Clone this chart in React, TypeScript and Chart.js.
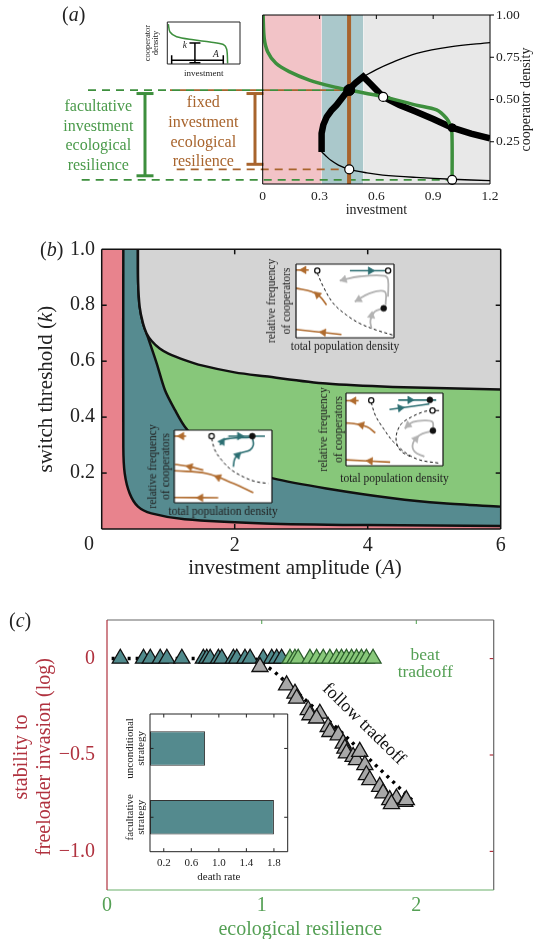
import React, { useEffect, useRef } from 'react';
import { Chart, registerables } from 'chart.js';

Chart.register(...registerables);

const SERIF = '"Liberation Serif", "Times New Roman", "DejaVu Serif", serif';
Chart.defaults.font.family = SERIF;
Chart.defaults.color = '#222';

// ---------------- colours ----------------
const BROWN = '#a8642d';
const FGREEN = '#3d8f3d';
const RED_TXT = '#b0323f';
const GREEN_TXT = '#55a055';
const P_BROWN = '#b06b2e';
const P_TEAL = '#2b6e72';
const P_GRAY = '#b3b3b3';

// ================= Panel (a) data =================
const aXTicks = [0, 0.3, 0.6, 0.9, 1.2];
const aXTickLabels = ['0', '0.3', '0.6', '0.9', '1.2'];
const aYTicks = [0.25, 0.5, 0.75, 1.0];
const aYTickLabels = ['0.25', '0.50', '0.75', '1.00'];
const aRegionEdges = [0, 0.3115, 0.531, 1.2];
const aFixedInvestment = 0.456;
const aFacultativeCurve = [[0.002, 1.0], [0.008, 0.862], [0.026, 0.783], [0.07, 0.714], [0.14, 0.665], [0.246, 0.615], [0.37, 0.576], [0.458, 0.556], [0.634, 0.517], [0.81, 0.467], [0.918, 0.438], [0.97, 0.389], [0.99, 0.349], [0.999, 0.3], [1.0, 0.024]];
const aStableBranch = [[0.311, 0.19], [0.311, 0.3], [0.32, 0.35], [0.338, 0.398], [0.362, 0.435], [0.39, 0.467], [0.42, 0.51], [0.452, 0.556], [0.49, 0.598], [0.531, 0.635], [0.566, 0.596], [0.634, 0.517], [0.722, 0.467], [0.81, 0.428], [0.9, 0.385], [1.0, 0.333], [1.1, 0.298], [1.2, 0.27]];
const aLowerBranch = [[0.311, 0.19], [0.33, 0.17], [0.36, 0.14], [0.4, 0.112], [0.457, 0.087], [0.55, 0.066], [0.634, 0.053], [0.81, 0.039], [1.0, 0.028], [1.2, 0.02]];
const aUpperBranch = [[0.531, 0.635], [0.6, 0.677], [0.672, 0.714], [0.813, 0.773], [0.989, 0.812], [1.2, 0.836]];
const aStablePoints = [[0.457, 0.556], [1.0, 0.333]];
const aUnstablePoints = [[0.636, 0.515], [0.457, 0.087], [1.0, 0.025]];

// panel (a) schematic inset
const aInsetCurve = [[0.014, 0.948], [0.037, 0.761], [0.128, 0.649], [0.358, 0.575], [0.587, 0.522], [0.771, 0.463], [0.817, 0.351], [0.83, 0.015]];
const aInsetK = [[0.38, 0.5], [0.38, 0.03]];
const aInsetA = [[0.06, 0.09], [0.77, 0.09]];

// ================= Panel (b) data =================
const bXTicks = [0, 2, 4, 6];
const bXTickLabels = ['0', '2', '4', '6'];
const bYTicks = [0.2, 0.4, 0.6, 0.8, 1.0];
const bYTickLabels = ['0.2', '0.4', '0.6', '0.8', '1.0'];
const bUnstableBoundary = [[0.325, 1], [0.325, 0.294], [0.346, 0.199], [0.421, 0.127], [0.546, 0.08], [0.747, 0.056], [1.248, 0.035], [2.45, 0.02], [4.0, 0.014], [6.0, 0.011]];
const bBistableBoundary = [[0.545, 1], [0.548, 0.88], [0.571, 0.794], [0.621, 0.735], [0.675, 0.699], [0.827, 0.592], [0.952, 0.496], [1.103, 0.425], [1.253, 0.365], [1.6, 0.275], [2.0, 0.225], [2.576, 0.181], [3.378, 0.145], [4.38, 0.11], [5.14, 0.092], [6.0, 0.08]];
const bStableBoundary = [[0.545, 1], [0.548, 0.88], [0.571, 0.794], [0.621, 0.735], [0.675, 0.699], [0.752, 0.672], [0.872, 0.645], [1.003, 0.627], [1.25, 0.604], [1.504, 0.585], [2.0, 0.56], [2.456, 0.546], [3.378, 0.52], [4.38, 0.508], [6.0, 0.499]];

// phase-portrait insets (normalised axes)  [x, y] and arrows [x, y, direction deg]
const p1Separatrix = [[0.217, 0.877], [0.278, 0.695], [0.38, 0.468], [0.515, 0.309], [0.651, 0.195], [0.82, 0.105], [0.99, 0.036]];
const p1Brown = [[[0, 0.92], [0.13, 0.92]], [[0.312, 0.445], [0.244, 0.559], [0.159, 0.627], [0, 0.673]], [[0.464, 0.045], [0, 0.114]]];
const p1BrownArrows = [[0.08, 0.92, -90], [0.22, 0.585, -48], [0.28, 0.073, -84]];
const p1Teal = [[[0.55, 0.91], [0.94, 0.91]]];
const p1TealArrows = [[0.76, 0.91, 90]];
const p1Gray = [[[0.447, 0.777], [0.651, 0.832], [0.905, 0.841], [0.939, 0.786], [0.939, 0.559]], [[0.6, 0.49], [0.753, 0.605], [0.905, 0.627], [0.915, 0.445]], [[0.77, 0.127], [0.76, 0.24], [0.803, 0.355], [0.888, 0.4]]];
const p1GrayArrows = [[0.49, 0.79, -107], [0.64, 0.52, -119], [0.77, 0.3, 10]];
const p1Open = [[0.217, 0.91], [0.94, 0.91]];
const p1Filled = [[0.895, 0.4]];

const p2Separatrix = [[[0.26, 0.873], [0.303, 0.692], [0.387, 0.511], [0.488, 0.33], [0.623, 0.172], [0.758, 0.081], [0.96, 0.036]], [[0.892, 0.76], [0.808, 0.747], [0.673, 0.67], [0.572, 0.579], [0.522, 0.443], [0.522, 0.308], [0.572, 0.195], [0.66, 0.13]]];
const p2Stub = [[0.892, 0.76], [0.96, 0.76]];
const p2Brown = [[[0, 0.896], [0.13, 0.896]], [[0.303, 0.452], [0.219, 0.534], [0.084, 0.579], [0, 0.588]], [[0.455, 0.05], [0, 0.081]]];
const p2BrownArrows = [[0.08, 0.896, -90], [0.16, 0.56, -76], [0.25, 0.066, -86]];
const p2Teal = [[[0.539, 0.905], [0.93, 0.905]], [[0.448, 0.774], [0.859, 0.851]]];
const p2TealArrows = [[0.66, 0.905, 90], [0.56, 0.795, 82]];
const p2Gray = [[[0.606, 0.511], [0.69, 0.602], [0.825, 0.624], [0.892, 0.602], [0.899, 0.511]], [[0.808, 0.127], [0.707, 0.195], [0.69, 0.308], [0.758, 0.421], [0.875, 0.475]]];
const p2GrayArrows = [[0.64, 0.56, -129], [0.72, 0.37, 39]];
const p2Open = [[0.26, 0.9], [0.892, 0.76]];
const p2Filled = [[0.865, 0.905], [0.896, 0.484]];

const p3Separatrix = [[0.382, 0.885], [0.416, 0.725], [0.485, 0.587], [0.587, 0.45], [0.741, 0.335], [0.843, 0.289], [0.962, 0.266]];
const p3Brown = [[[0, 0.917], [0.12, 0.917]], [[0.297, 0.45], [0.16, 0.495], [0.007, 0.528]], [[0.809, 0.138], [0.604, 0.266], [0.331, 0.404], [0, 0.44]], [[0.45, 0.069], [0, 0.073]]];
const p3BrownArrows = [[0.075, 0.917, -90], [0.16, 0.495, -76], [0.45, 0.35, -69], [0.27, 0.07, -90]];
const p3Teal = [[[0.553, 0.917], [0.928, 0.917]], [[0.468, 0.794], [0.502, 0.862], [0.57, 0.885], [0.775, 0.899]], [[0.604, 0.495], [0.621, 0.61], [0.672, 0.679], [0.775, 0.725], [0.809, 0.794], [0.802, 0.885]]];
const p3TealArrows = [[0.67, 0.917, 90], [0.49, 0.84, 33], [0.65, 0.655, 45]];
const p3Open = [[0.382, 0.917]];
const p3Filled = [[0.799, 0.917]];

// ================= Panel (c) data =================
const cXTicks = [0, 1, 2];
const cXTickLabels = ['0', '1', '2'];
const cYTicks = [-1.0, -0.5, 0];
const cYTickLabels = ['\u22121.0', '\u22120.5', '0'];
const cUnconditional = [0.086, 0.236, 0.28, 0.344, 0.387, 0.484, 0.623, 0.645, 0.667, 0.72, 0.742, 0.817, 0.839, 0.892, 0.925, 1.01, 1.065, 1.097, 1.129];
const cBeatTradeoff = [1.183, 1.215, 1.236, 1.312, 1.355, 1.398, 1.441, 1.484, 1.516, 1.548, 1.581, 1.613, 1.645, 1.677, 1.72];
const cFollowTradeoff = [[0.989, -0.043], [1.161, -0.138], [1.215, -0.181], [1.226, -0.207], [1.301, -0.267], [1.312, -0.293], [1.376, -0.285], [1.355, -0.31], [1.43, -0.354], [1.441, -0.38], [1.495, -0.397], [1.527, -0.44], [1.538, -0.466], [1.548, -0.491], [1.591, -0.509], [1.613, -0.526], [1.634, -0.483], [1.667, -0.552], [1.677, -0.604], [1.699, -0.63], [1.763, -0.664], [1.785, -0.698], [1.828, -0.733], [1.871, -0.725], [1.925, -0.742], [1.839, -0.754], [1.935, -0.733]];
const cTradeoffLine = [[0.03, 0], [0.96, 0], [1.084, -0.069], [1.29, -0.22], [1.5, -0.37], [1.72, -0.54], [1.86, -0.647], [1.98, -0.74]];

// panel (c) inset bar chart
const insetCategories = [['unconditional', 'strategy'], ['facultative', 'strategy']];
const insetDeathRate = [0.8, 1.8];
const insetXTicks = [0.2, 0.6, 1.0, 1.4, 1.8];
const insetXTickLabels = ['0.2', '0.6', '1.0', '1.4', '1.8'];

// ================= helpers =================
const xy = (a: number[][]) => a.map(([x, y]) => ({ x, y }));

function lineDs(label: string, data: any[], color: string, width: number, extra: any = {}) {
  return { label, data, showLine: true, borderColor: color, borderWidth: width, pointRadius: 0, pointHitRadius: 0, fill: false, tension: 0, ...extra };
}
function pointDs(label: string, data: any[], extra: any = {}) {
  return { label, data, showLine: false, pointHitRadius: 0, ...extra };
}
function arrowDs(label: string, arr: number[][], color: string) {
  return pointDs(label, arr.map(([x, y]) => ({ x, y })), {
    pointStyle: 'triangle', pointRadius: 4.3, pointRotation: arr.map((a) => a[2]),
    pointBackgroundColor: color, pointBorderColor: color, pointBorderWidth: 0.6,
  });
}
function stack(ds: any[]) {
  ds.forEach((d, i) => (d.order = ds.length - i));
  return ds;
}

function linAxis(o: any) {
  const vertical = o.position === 'left' || o.position === 'right';
  return {
    type: 'linear', position: o.position, min: o.min, max: o.max, display: o.display !== false,
    grid: { display: false, drawTicks: false }, border: { display: false },
    afterBuildTicks: (s: any) => { s.ticks = o.values.map((v: number) => ({ value: v })); },
    afterFit: (s: any) => { if (o.fit != null) { if (vertical) s.width = o.fit; else s.height = o.fit; } },
    ticks: {
      padding: o.pad ?? 4, autoSkip: false, maxRotation: 0, minRotation: 0, color: o.color ?? '#222',
      font: { size: o.size ?? 14, family: SERIF },
      callback: (_v: any, i: number) => (o.hideFirst && i === 0 ? '' : o.labels[i]),
    },
  };
}

function baseOptions(padding: any, scales: any, extra: any = {}) {
  return {
    responsive: false, animation: false, devicePixelRatio: 1, events: [],
    layout: { padding },
    plugins: { legend: { display: false }, tooltip: { enabled: false } },
    scales,
    ...extra,
  };
}

function drawText(ctx: CanvasRenderingContext2D, runs: any, x: number, y: number, o: any = {}) {
  const { size = 14, color = '#222', align = 'center', baseline = 'middle', rotate = 0 } = o;
  const parts = typeof runs === 'string' ? [[runs, false]] : runs;
  ctx.save();
  ctx.translate(x, y);
  if (rotate) ctx.rotate(rotate);
  ctx.fillStyle = color;
  ctx.textBaseline = baseline;
  ctx.textAlign = 'left';
  const fonts = parts.map((p: any) => `${p[1] ? 'italic ' : ''}${size}px ${SERIF}`);
  const widths = parts.map((p: any, i: number) => { ctx.font = fonts[i]; return ctx.measureText(p[0]).width; });
  const total = widths.reduce((s: number, w: number) => s + w, 0);
  let cx = align === 'center' ? -total / 2 : align === 'right' ? -total : 0;
  parts.forEach((p: any, i: number) => { ctx.font = fonts[i]; ctx.fillText(p[0], cx, 0); cx += widths[i]; });
  ctx.restore();
}

function seg(ctx: CanvasRenderingContext2D, x1: number, y1: number, x2: number, y2: number, color: string, width: number, dash: number[] = [], offset = 0) {
  ctx.save();
  ctx.strokeStyle = color;
  ctx.lineWidth = width;
  ctx.setLineDash(dash);
  ctx.lineDashOffset = offset;
  ctx.beginPath();
  ctx.moveTo(x1, y1);
  ctx.lineTo(x2, y2);
  ctx.stroke();
  ctx.restore();
}

function framePlugin(cfg: any) {
  return {
    id: cfg.id,
    afterDatasetsDraw(chart: any) {
      const { ctx, chartArea: a, scales } = chart;
      const w = cfg.width ?? 1;
      (cfg.ticks || []).forEach((t: any) => {
        t.values.forEach((v: number) => {
          const p = scales[t.axis].getPixelForValue(v);
          const L = t.len;
          if (t.side === 'top') seg(ctx, p, a.top, p, a.top + L, t.color, w);
          if (t.side === 'bottom') seg(ctx, p, a.bottom, p, a.bottom - L, t.color, w);
          if (t.side === 'left') seg(ctx, a.left, p, a.left + L, p, t.color, w);
          if (t.side === 'right') seg(ctx, a.right, p, a.right + L, p, t.color, w);
        });
      });
      if (cfg.top) seg(ctx, a.left, a.top, a.right, a.top, cfg.top, w);
      if (cfg.right) seg(ctx, a.right, a.top, a.right, a.bottom, cfg.right, w);
      if (cfg.bottom) seg(ctx, a.left, a.bottom, a.right, a.bottom, cfg.bottom, w);
      if (cfg.left) seg(ctx, a.left, a.top, a.left, a.bottom, cfg.left, w);
    },
  };
}

const whiteBg = {
  id: 'whiteBg',
  beforeDatasetsDraw(chart: any) {
    const { ctx, chartArea: a } = chart;
    ctx.save();
    ctx.fillStyle = '#fff';
    ctx.fillRect(a.left, a.top, a.right - a.left, a.bottom - a.top);
    ctx.restore();
  },
};

// ================= Panel (a) =================
function buildPanelA() {
  const rect = (x0: number, x1: number, color: string, label: string) =>
    lineDs(label, [{ x: x0, y: 1 }, { x: x1, y: 1 }], 'rgba(0,0,0,0)', 1, { fill: 'origin', backgroundColor: color });
  const datasets = stack([
    rect(aRegionEdges[0], aRegionEdges[1], '#f2c3c7', 'bg-unstable'),
    rect(aRegionEdges[1], aRegionEdges[2], '#aac8cb', 'bg-bistable'),
    rect(aRegionEdges[2], aRegionEdges[3], '#e8e8e8', 'bg-stable'),
    lineDs('fixed', [{ x: aFixedInvestment, y: 0 }, { x: aFixedInvestment, y: 1 }], BROWN, 4),
    lineDs('lower', xy(aLowerBranch), '#000', 1.3, { tension: 0.35 }),
    lineDs('upper', xy(aUpperBranch), '#000', 1.3, { tension: 0.35 }),
    lineDs('stableBranch', xy(aStableBranch), '#000', 6.5, { borderJoinStyle: 'miter', borderCapStyle: 'butt' }),
    lineDs('facultative', xy(aFacultativeCurve), FGREEN, 3.5, { tension: 0.3, borderCapStyle: 'butt' }),
    pointDs('stablePts', xy(aStablePoints), { pointRadius: [5.5, 4], pointBackgroundColor: '#000', pointBorderColor: '#000', pointBorderWidth: 1, clip: false }),
    pointDs('unstablePts', xy(aUnstablePoints), { pointRadius: 4.5, pointBackgroundColor: '#fff', pointBorderColor: '#000', pointBorderWidth: 1.2, clip: false }),
  ]);

  const annot = {
    id: 'annotA',
    afterDatasetDraw(chart: any, args: any) {
      if (chart.data.datasets[args.index].label !== 'bg-stable') return;
      const { ctx, scales: { x, y } } = chart;
      const hi = aStablePoints[0];
      const loFixed = aUnstablePoints[1];
      const loFac = aUnstablePoints[2];
      seg(ctx, 88, y.getPixelForValue(hi[1]), x.getPixelForValue(hi[0]), y.getPixelForValue(hi[1]), FGREEN, 1.8, [8, 6]);
      seg(ctx, 170, y.getPixelForValue(hi[1]), x.getPixelForValue(hi[0]), y.getPixelForValue(hi[1]), BROWN, 1.8, [6, 8], 4);
      seg(ctx, 176.7, y.getPixelForValue(loFixed[1]), x.getPixelForValue(loFixed[0]), y.getPixelForValue(loFixed[1]), BROWN, 1.8, [8, 6]);
      seg(ctx, 81.7, y.getPixelForValue(loFac[1]), x.getPixelForValue(loFac[0]), y.getPixelForValue(loFac[1]), FGREEN, 1.8, [8, 6]);
    },
    afterDatasetsDraw(chart: any) {
      const { ctx, chartArea: a, scales: { y } } = chart;
      const hiY = y.getPixelForValue(aStablePoints[0][1]);
      const beam = (bx: number, y1: number, y2: number, c: string) => {
        seg(ctx, bx, y1, bx, y2, c, 3);
        seg(ctx, bx - 8.5, y1, bx + 8.5, y1, c, 3);
        seg(ctx, bx - 8.5, y2, bx + 8.5, y2, c, 3);
      };
      beam(145, hiY + 3.5, y.getPixelForValue(aUnstablePoints[2][1]) - 4, FGREEN);
      beam(255, hiY + 3.5, y.getPixelForValue(aUnstablePoints[1][1]) - 5, BROWN);
      const fac = ['facultative', 'investment', 'ecological', 'resilience'];
      fac.forEach((t, i) => drawText(ctx, t, 98.3, 111 + i * 19.5, { size: 16, color: '#4a9a4a', baseline: 'alphabetic' }));
      const fix = ['fixed', 'investment', 'ecological', 'resilience'];
      fix.forEach((t, i) => drawText(ctx, t, 203.3, 107.3 + i * 19.6, { size: 16, color: BROWN, baseline: 'alphabetic' }));
      drawText(ctx, [['(', false], ['a', true], [')', false]], 62, 16, { size: 20, align: 'left' });
      drawText(ctx, 'investment', (a.left + a.right) / 2, 210, { size: 14 });
      drawText(ctx, 'cooperator density', 526.5, (a.top + a.bottom) / 2, { size: 14, rotate: -Math.PI / 2 });
    },
  };

  return {
    type: 'line',
    data: { datasets },
    options: baseOptions({ left: 262.7, top: 15, right: 0, bottom: 0 }, {
      x: linAxis({ position: 'bottom', min: 0, max: 1.2, values: aXTicks, labels: aXTickLabels, size: 13.5, pad: 4, fit: 41 }),
      y: linAxis({ position: 'right', min: 0, max: 1, values: aYTicks, labels: aYTickLabels, size: 13.5, pad: 6, fit: 44 }),
    }),
    plugins: [annot, framePlugin({
      id: 'frameA', width: 1, top: '#000', right: '#000', bottom: '#000', left: '#000',
      ticks: [
        { side: 'top', axis: 'x', values: [0.3, 0.6, 0.9], len: 4, color: '#000' },
        { side: 'right', axis: 'y', values: aYTicks, len: 4, color: '#000' },
      ],
    })],
  };
}

function buildInsetA() {
  const datasets = stack([
    lineDs('curve', xy(aInsetCurve), FGREEN, 1.5, { tension: 0.3 }),
    lineDs('A', xy(aInsetA), '#000', 1.5, { pointRadius: 5, pointStyle: 'line', pointRotation: 90, pointBorderColor: '#000', pointBorderWidth: 1.5 }),
    lineDs('k', xy(aInsetK), '#000', 1.5, { pointRadius: 5.5, pointStyle: 'line', pointBorderColor: '#000', pointBorderWidth: 1.5 }),
  ]);
  const annot = {
    id: 'annotInsetA',
    afterDatasetsDraw(chart: any) {
      const { ctx, chartArea: a, scales: { x, y } } = chart;
      drawText(ctx, [['k', true]], x.getPixelForValue(0.243), y.getPixelForValue(0.43), { size: 9.5 });
      drawText(ctx, [['A', true]], x.getPixelForValue(0.67), y.getPixelForValue(0.22), { size: 9.5 });
      const cy = (a.top + a.bottom) / 2;
      drawText(ctx, 'cooperator', a.left - 19.5, cy, { size: 8.5, rotate: -Math.PI / 2 });
      drawText(ctx, 'density', a.left - 11.5, cy, { size: 8.5, rotate: -Math.PI / 2 });
      drawText(ctx, 'investment', (a.left + a.right) / 2, a.bottom + 9.5, { size: 9 });
    },
  };
  return {
    type: 'line',
    data: { datasets },
    options: baseOptions({ left: 27.3, top: 4.3, right: 10, bottom: 21 }, {
      x: { type: 'linear', min: 0, max: 1, display: false },
      y: { type: 'linear', min: 0, max: 1, display: false },
    }),
    plugins: [whiteBg, annot, framePlugin({ id: 'frameIA', width: 1, top: '#222', right: '#222', bottom: '#222', left: '#222' })],
  };
}

// ================= Panel (b) =================
function buildPanelB() {
  const datasets = stack([
    lineDs('unstable', [{ x: 0, y: 1 }, { x: 6, y: 1 }], 'rgba(0,0,0,0)', 1, { fill: 'origin', backgroundColor: '#e8838d' }),
    lineDs('bistable', xy(bUnstableBoundary), '#111', 2.5, { fill: 'end', backgroundColor: '#568b90', tension: 0.3 }),
    lineDs('beat', xy(bBistableBoundary), '#111', 2.5, { fill: 'end', backgroundColor: '#87c77a', tension: 0.3 }),
    lineDs('stable', xy(bStableBoundary), '#111', 2.5, { fill: 'end', backgroundColor: '#d4d4d4', tension: 0.3 }),
  ]);
  const annot = {
    id: 'annotB',
    afterDatasetsDraw(chart: any) {
      const { ctx, chartArea: a } = chart;
      drawText(ctx, bXTickLabels[0], a.left - 12.7, a.bottom + 16, { size: 20 });
      drawText(ctx, [['(', false], ['b', true], [')', false]], a.left - 61.7, a.top + 1, { size: 20, align: 'left' });
      drawText(ctx, [['switch threshold (', false], ['k', true], [')', false]], a.left - 55, (a.top + a.bottom) / 2, { size: 21, rotate: -Math.PI / 2 });
      drawText(ctx, [['investment amplitude (', false], ['A', true], [')', false]], 295, a.bottom + 39, { size: 21 });
    },
  };
  return {
    type: 'line',
    data: { datasets },
    options: baseOptions({ left: 0, top: 24.3, right: 33.3, bottom: 0 }, {
      x: linAxis({ position: 'bottom', min: 0, max: 6, values: bXTicks, labels: bXTickLabels, size: 20, pad: 5, fit: 61, hideFirst: true }),
      y: linAxis({ position: 'left', min: 0, max: 1, values: bYTicks, labels: bYTickLabels, size: 20, pad: 6.7, fit: 101.7 }),
    }),
    plugins: [annot, framePlugin({
      id: 'frameB', width: 1.5, top: '#111', right: '#111', bottom: '#111', left: '#111',
      ticks: [
        { side: 'top', axis: 'x', values: [2, 4], len: 5, color: '#111' },
        { side: 'bottom', axis: 'x', values: [2, 4], len: 5, color: '#111' },
        { side: 'left', axis: 'y', values: [0.2, 0.4, 0.6, 0.8], len: 5, color: '#111' },
        { side: 'right', axis: 'y', values: [0.2, 0.4, 0.6, 0.8], len: -5, color: '#111' },
      ],
    })],
  };
}

function buildPhaseInset(p: any, box: any) {
  const ds: any[] = [];
  p.separatrices.forEach((s: any) => ds.push(lineDs('sep', xy(s), '#111', 1, { borderDash: [3, 2.5], tension: 0.35 })));
  (p.stubs || []).forEach((s: any) => ds.push(lineDs('stub', xy(s), '#111', 1)));
  p.brown.forEach((s: any) => ds.push(lineDs('brown', xy(s), P_BROWN, 1.6, { tension: 0.4 })));
  p.gray.forEach((s: any) => ds.push(lineDs('gray', xy(s), P_GRAY, 1.8, { tension: 0.4 })));
  p.teal.forEach((s: any) => ds.push(lineDs('teal', xy(s), P_TEAL, 1.6, { tension: 0.4 })));
  ds.push(arrowDs('brownArrows', p.brownArrows, P_BROWN));
  if (p.grayArrows.length) ds.push(arrowDs('grayArrows', p.grayArrows, P_GRAY));
  ds.push(arrowDs('tealArrows', p.tealArrows, P_TEAL));
  ds.push(pointDs('open', xy(p.open), { pointRadius: 2.6, pointBackgroundColor: '#fff', pointBorderColor: '#111', pointBorderWidth: 1.3, clip: false }));
  ds.push(pointDs('filled', xy(p.filled), { pointRadius: 3, pointBackgroundColor: '#111', pointBorderColor: '#111', pointBorderWidth: 0.5, clip: false }));
  stack(ds);
  const annot = {
    id: 'annotPhase',
    afterDatasetsDraw(chart: any) {
      const { ctx, chartArea: a } = chart;
      const cy = (a.top + a.bottom) / 2;
      drawText(ctx, 'relative frequency', a.left - box.yl[0], cy, { size: 11.5, rotate: -Math.PI / 2 });
      drawText(ctx, 'of cooperators', a.left - box.yl[1], cy, { size: 11.5, rotate: -Math.PI / 2 });
      drawText(ctx, 'total population density', (a.left + a.right) / 2, a.bottom + box.xl, { size: 11.5 });
    },
  };
  const cw = box.right - box.left + 46;
  const ch = box.bottom - box.top + 30;
  return {
    type: 'line',
    data: { datasets: ds },
    options: baseOptions({ left: 36, top: 8, right: cw - 36 - (box.right - box.left), bottom: ch - 8 - (box.bottom - box.top) }, {
      x: { type: 'linear', min: 0, max: 1, display: false },
      y: { type: 'linear', min: 0, max: 1, display: false },
    }),
    plugins: [whiteBg, annot, framePlugin({ id: 'framePh', width: 1.2, top: '#111', right: '#111', bottom: '#111', left: '#111' })],
  };
}

const phaseBoxes = [
  { left: 296, top: 264.3, right: 394.3, bottom: 337.7, yl: [24.3, 9.3], xl: 8.5 },
  { left: 345.7, top: 393.3, right: 443.3, bottom: 466, yl: [22.4, 7.4], xl: 13.3 },
  { left: 174.3, top: 430, right: 272, bottom: 502.7, yl: [21, 7.6], xl: 8.5 },
];

function phaseSpecs() {
  return [
    { separatrices: [p1Separatrix], brown: p1Brown, brownArrows: p1BrownArrows, teal: p1Teal, tealArrows: p1TealArrows, gray: p1Gray, grayArrows: p1GrayArrows, open: p1Open, filled: p1Filled },
    { separatrices: p2Separatrix, stubs: [p2Stub], brown: p2Brown, brownArrows: p2BrownArrows, teal: p2Teal, tealArrows: p2TealArrows, gray: p2Gray, grayArrows: p2GrayArrows, open: p2Open, filled: p2Filled },
    { separatrices: [p3Separatrix], brown: p3Brown, brownArrows: p3BrownArrows, teal: p3Teal, tealArrows: p3TealArrows, gray: [], grayArrows: [], open: p3Open, filled: p3Filled },
  ];
}

// ================= Panel (c) =================
function buildPanelC() {
  const tri = (label: string, data: any[], fillC: string, border: string) =>
    pointDs(label, data, { pointStyle: 'triangle', pointRadius: 9.3, pointBackgroundColor: fillC, pointBorderColor: border, pointBorderWidth: 1.3 });
  const datasets = stack([
    lineDs('tradeoff', xy(cTradeoffLine), '#000', 3.5, { borderDash: [3, 5], borderCapStyle: 'butt' }),
    tri('unconditional', cUnconditional.map((x) => ({ x, y: 0 })), '#508a8c', '#111'),
    tri('beat', cBeatTradeoff.map((x) => ({ x, y: 0 })), '#88c87a', '#2d5e2d'),
    tri('follow', xy(cFollowTradeoff), '#a8a8a8', '#111'),
  ]);
  const annot = {
    id: 'annotC',
    afterDatasetsDraw(chart: any) {
      const { ctx, chartArea: a, scales: { x, y } } = chart;
      drawText(ctx, [['(', false], ['c', true], [')', false]], 9, 32, { size: 20, align: 'left' });
      const cy = (a.top + a.bottom) / 2 + 2;
      drawText(ctx, 'stability to', 22, cy, { size: 20, color: RED_TXT, rotate: -Math.PI / 2 });
      drawText(ctx, 'freeloader invasion (log)', 45, cy, { size: 20, color: RED_TXT, rotate: -Math.PI / 2 });
      drawText(ctx, 'ecological resilience', (a.left + a.right) / 2, 340, { size: 20, color: GREEN_TXT });
      drawText(ctx, 'beat', x.getPixelForValue(2.057), y.getPixelForValue(0.017), { size: 17.5, color: GREEN_TXT });
      drawText(ctx, 'tradeoff', x.getPixelForValue(2.057), y.getPixelForValue(-0.071), { size: 17.5, color: GREEN_TXT });
      drawText(ctx, 'follow tradeoff', x.getPixelForValue(1.659), y.getPixelForValue(-0.339), { size: 18, color: '#111', rotate: (44.4 * Math.PI) / 180 });
    },
  };
  return {
    type: 'line',
    data: { datasets },
    options: baseOptions({ left: 0, top: 30, right: 40.3, bottom: 0 }, {
      x: linAxis({ position: 'bottom', min: 0, max: 2.5, values: cXTicks, labels: cXTickLabels, size: 20, pad: 4, fit: 49, color: GREEN_TXT }),
      y: linAxis({ position: 'left', min: -1.2, max: 0.2, values: cYTicks, labels: cYTickLabels, size: 20, pad: 12, fit: 107, color: RED_TXT }),
    }),
    plugins: [annot, framePlugin({
      id: 'frameC', width: 1.2, top: '#666', right: '#666', bottom: '#6ab06a', left: '#b0323f',
      ticks: [
        { side: 'top', axis: 'x', values: [1, 2], len: 4, color: '#6ab06a' },
        { side: 'right', axis: 'y', values: cYTicks, len: -4, color: '#b0323f' },
      ],
    })],
  };
}

function buildInsetC() {
  const annot = {
    id: 'annotInsetC',
    afterDatasetsDraw(chart: any) {
      const { ctx, chartArea: a, scales: { y } } = chart;
      insetCategories.forEach((lines, i) => {
        const cy = y.getPixelForValue(i);
        drawText(ctx, lines[0], a.left - 20, cy, { size: 11, rotate: -Math.PI / 2 });
        drawText(ctx, lines[1], a.left - 8.5, cy, { size: 11, rotate: -Math.PI / 2 });
      });
      drawText(ctx, 'death rate', (a.left + a.right) / 2, a.bottom + 25.6, { size: 11 });
    },
  };
  return {
    type: 'bar',
    data: {
      labels: insetCategories.map((l) => l.join(' ')),
      datasets: [{ data: insetDeathRate, backgroundColor: '#548a8e', borderColor: '#333', borderWidth: 1, borderSkipped: false, barPercentage: 0.5, categoryPercentage: 1 }],
    },
    options: baseOptions({ left: 50, top: 14, right: 12.3, bottom: 0 }, {
      x: linAxis({ position: 'bottom', min: 0, max: 2, values: insetXTicks, labels: insetXTickLabels, size: 11, pad: 5, fit: 33.3 }),
      y: { type: 'category', display: false, offset: true },
    }, { indexAxis: 'y' }),
    plugins: [whiteBg, annot, framePlugin({
      id: 'frameIC', width: 1, top: '#222', right: '#222', bottom: '#222', left: '#222',
      ticks: [
        { side: 'bottom', axis: 'x', values: insetXTicks, len: 3.5, color: '#222' },
        { side: 'top', axis: 'x', values: insetXTicks, len: 3.5, color: '#222' },
        { side: 'left', axis: 'y', values: [0, 1], len: 3.5, color: '#222' },
        { side: 'right', axis: 'y', values: [0, 1], len: -3.5, color: '#222' },
      ],
    })],
  };
}

// ================= components =================
function ChartBox({ left, top, width, height, build }: any) {
  const ref = useRef<HTMLCanvasElement>(null);
  useEffect(() => {
    const chart = new Chart(ref.current as HTMLCanvasElement, build());
    return () => chart.destroy();
  }, [build]);
  return <canvas ref={ref} width={width} height={height} style={{ position: 'absolute', left, top, width, height, display: 'block' }} />;
}

const specs = phaseSpecs();
const phaseBuilders = specs.map((s, i) => () => buildPhaseInset(s, phaseBoxes[i]));

export default function App() {
  return (
    <div style={{ position: 'absolute', left: 0, top: 0, width: 534, height: 939, background: '#fff', overflow: 'hidden' }}>
      <ChartBox left={0} top={0} width={534} height={225} build={buildPanelA} />
      <ChartBox left={140} top={15} width={110} height={70} build={buildInsetA} />
      <ChartBox left={0} top={225} width={534} height={365} build={buildPanelB} />
      {phaseBoxes.map((b, i) => (
        <ChartBox key={i} left={b.left - 36} top={b.top - 8} width={b.right - b.left + 46} height={b.bottom - b.top + 30} build={phaseBuilders[i]} />
      ))}
      <ChartBox left={0} top={590} width={534} height={349} build={buildPanelC} />
      <ChartBox left={100} top={700} width={200} height={185} build={buildInsetC} />
    </div>
  );
}
